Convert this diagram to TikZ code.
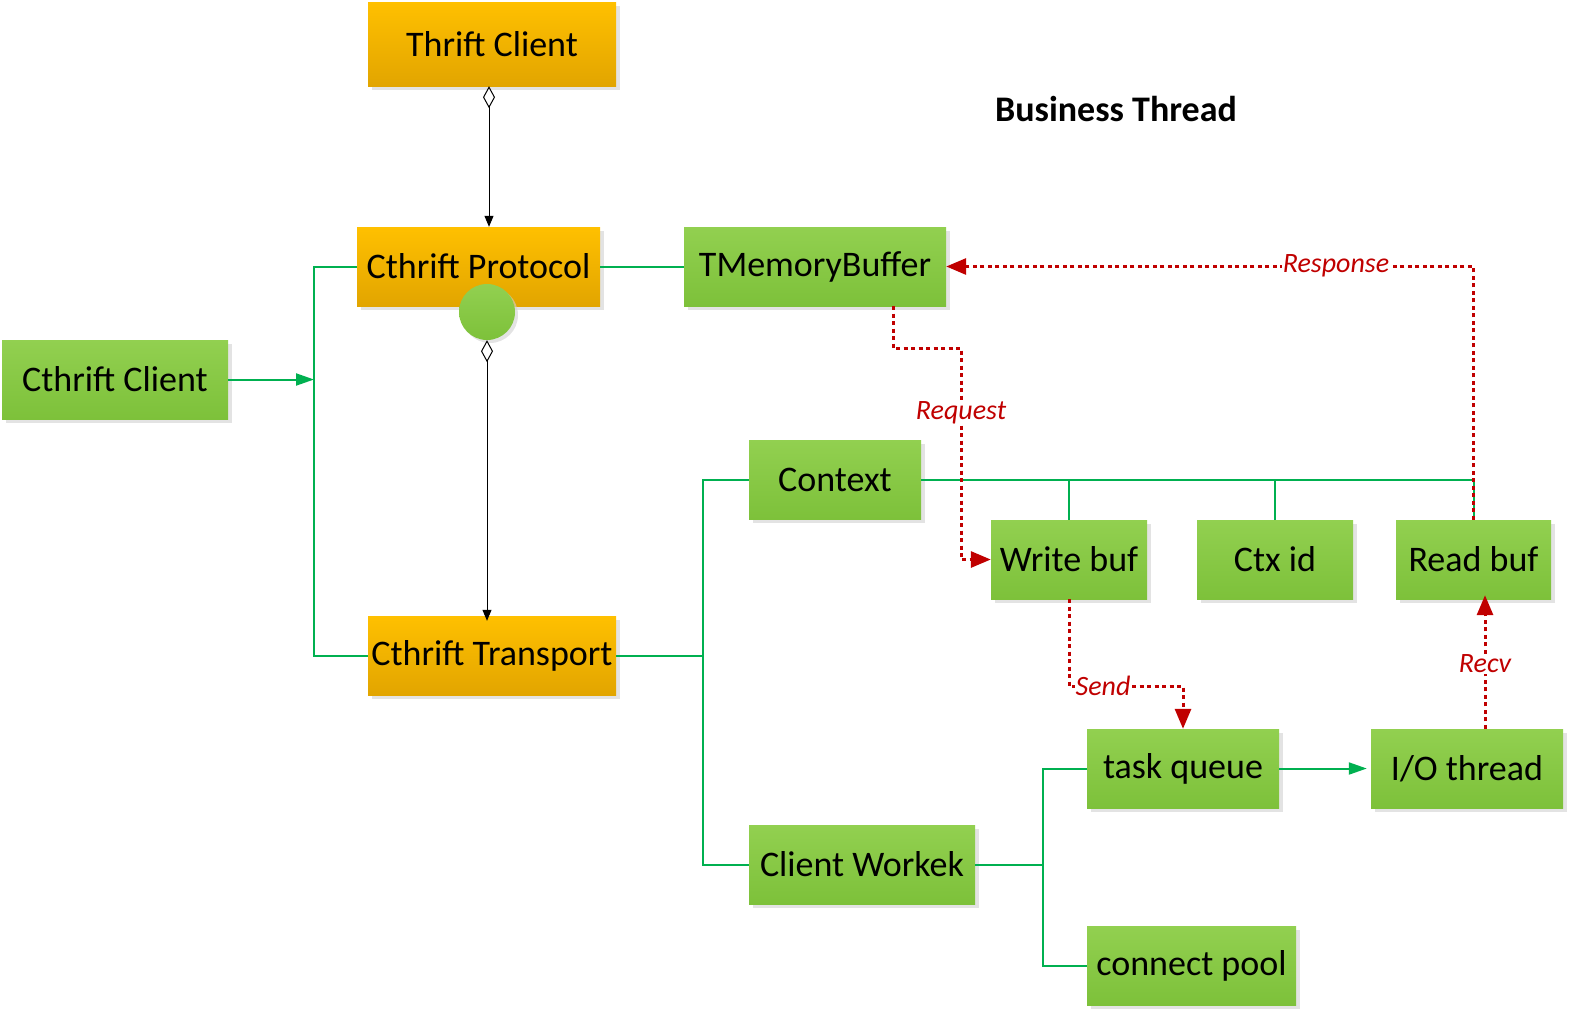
\documentclass[tikz,border=0pt]{standalone}
\usepackage{fontspec}
\setmainfont{Carlito}
\usetikzlibrary{arrows.meta,shadows,calc}
\definecolor{gtop}{HTML}{92D050}
\definecolor{gbot}{HTML}{7DC13A}
\definecolor{otop}{HTML}{FFC000}
\definecolor{obot}{HTML}{E2A500}
\definecolor{gline}{HTML}{00B050}
\definecolor{rline}{HTML}{C00000}
\tikzset{
  box/.style={inner sep=0pt, anchor=center, font=\fontsize{36}{40}\selectfont,
    drop shadow={shadow xshift=4pt, shadow yshift=-4pt, fill=black!18, opacity=0.6}},
  gbox/.style={box, top color=gtop, bottom color=gbot},
  obox/.style={box, top color=otop, bottom color=obot},
  gconn/.style={draw=gline, line width=2pt},
  garrow/.style={gconn, -{Triangle[length=18pt,width=12pt]}},
  rconn/.style={draw=rline, line width=3pt, dash pattern=on 4pt off 3.5pt,
    -{Triangle[length=20pt,width=16pt]}},
  rlabel/.style={fill=white, inner sep=1pt, text=rline, font=\itshape\fontsize{28}{32}\selectfont},
  bconn/.style={draw=black, line width=1pt,
    {Diamond[open,length=22pt,width=12pt]}-{Triangle[length=11pt,width=9pt]}},
}
\begin{document}
\begin{tikzpicture}[x=1pt,y=-1pt]
\useasboundingbox (0,0) rectangle (1574,1013);
% nodes
\node[obox, minimum width=248, minimum height=84] (thrift) at (492,44) {Thrift Client};
\node[obox, minimum width=243, minimum height=79] (proto) at (478.5,266.5) {Cthrift Protocol};
\node[gbox, minimum width=262, minimum height=79] (tmem) at (815,266.5) {TMemoryBuffer};
\node[gbox, minimum width=226, minimum height=79] (cclient) at (115,379.5) {Cthrift Client};
\node[obox, minimum width=248, minimum height=79] (trans) at (492,655.5) {Cthrift Transport};
\node[gbox, minimum width=172, minimum height=79] (context) at (835,479.5) {Context};
\node[gbox, minimum width=156, minimum height=79] (wbuf) at (1069,559.5) {Write buf};
\node[gbox, minimum width=156, minimum height=79] (ctxid) at (1275,559.5) {Ctx id};
\node[gbox, minimum width=155, minimum height=79] (rbuf) at (1473.5,559.5) {Read buf};
\node[gbox, minimum width=192, minimum height=79] (taskq) at (1183,768.5) {task queue};
\node[gbox, minimum width=192, minimum height=79] (io) at (1467,768.5) {I/O thread};
\node[gbox, minimum width=226, minimum height=79] (worker) at (862,864.5) {Client Workek};
\node[gbox, minimum width=209, minimum height=79] (pool) at (1191.5,965.5) {connect pool};
\node[circle, inner sep=0pt, minimum size=56, top color=gtop, bottom color=gbot,
  drop shadow={shadow xshift=3pt, shadow yshift=-3pt, fill=black!18, opacity=0.6}] (dot) at (487,312) {};
\node[font=\bfseries\fontsize{36}{40}\selectfont] (title) at (1116,109) {Business Thread};

% black aggregation arrows
\draw[bconn] (thrift.south -| 489,0) -- (proto.north -| 489,0);
\draw[bconn] (dot.south) -- ([yshift=-5pt]trans.north -| dot.south);

% green connectors
\coordinate (busA) at (314,379.5);
\draw[garrow] (cclient.east) -- (busA);
\draw[gconn] (proto.west) -| (314,655.5) -- (trans.west);
\draw[gconn] (proto.east) -- (tmem.west);
\coordinate (busB) at (703,655.5);
\draw[gconn] (trans.east) -- (busB);
\draw[gconn] (context.west) -| (busB) |- (worker.west);
\coordinate (busC) at (1473.5,479.5);
\draw[gconn] (context.east) -- (busC) -- (rbuf.north);
\draw[gconn] (wbuf.north) -- (wbuf.north |- busC);
\draw[gconn] (ctxid.north) -- (ctxid.north |- busC);
\coordinate (busD) at (1043,864.5);
\draw[gconn] (worker.east) -- (busD);
\draw[gconn] (taskq.west) -| (busD) |- (pool.west);
\draw[garrow] (taskq.east) -- ([xshift=-4pt]io.west);

% red dotted flows
\draw[rconn] (rbuf.north) |- (tmem.east);
\node[rlabel] (lresp) at (1336,266) {Response};
\coordinate (rq0) at ($(tmem.south)+(78,0)$);
\draw[rconn] (rq0) -- ++(0,42) -| (961,413) node[rlabel] (lreq) {Request} |- (wbuf.west);
\draw[rconn] (wbuf.south) |- (1103,686) node[rlabel] (lsend) {Send} -| (taskq.north);
\draw[rconn] ($(io.north)+(18,0)$) -- ($(rbuf.south)+(11.5,-4)$);
\node[rlabel] (lrecv) at (1485,664) {Recv};
\end{tikzpicture}
\end{document}
